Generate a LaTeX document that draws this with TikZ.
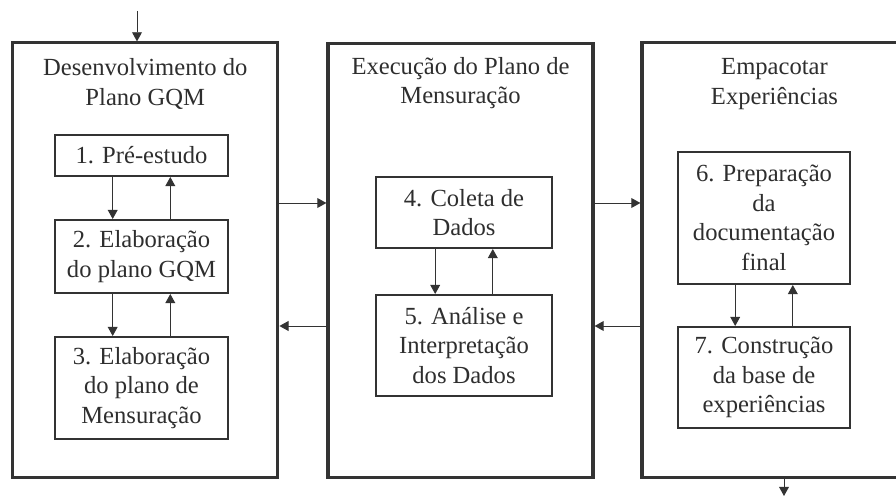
\documentclass[tikz,border=0pt]{standalone}
\usepackage{fontspec}
\setmainfont{Liberation Serif}
\usetikzlibrary{arrows.meta}
\definecolor{linegray}{HTML}{333333}
\definecolor{textgray}{HTML}{2E2E2E}
\tikzset{
	phase/.style={draw=linegray, line width=2.2pt, minimum width=6.625cm, minimum height=10.85cm, inner sep=0pt},
	stepbox/.style={draw=linegray, line width=1.4pt, align=center, inner sep=0pt, text=textgray},
	title/.style={align=center, text=textgray},
	arr/.style={draw=linegray, line width=0.7pt, -{Triangle[length=6.5pt,width=7pt]}}
}
\begin{document}
\begin{tikzpicture}[x=0.025cm, y=-0.025cm, font=\fontsize{17.5}{21}\selectfont]
	\useasboundingbox (0,0) rectangle (896,497);
	% fases
	\node[phase] (o1) at (145.3,260) {};
	\node[phase] (o2) at (460.5,260.5) {};
	\node[phase] (o3) at (774.5,260) {};
	\node[title] (t1) at (145.3,84) {Desenvolvimento do\\Plano GQM};
	\node[title] (t2) at (460.5,83) {Execução do Plano de\\Mensuração};
	\node[title] (t3) at (774.5,84) {Empacotar\\Experiências};
	% passos
	\node[stepbox, minimum width=4.325cm, minimum height=1.025cm] (b1) at (141.5,155.5) {1. Pré-estudo};
	\node[stepbox, minimum width=4.325cm, minimum height=1.825cm] (b2) at (141.5,256.5) {2. Elaboração\\do plano GQM};
	\node[stepbox, minimum width=4.325cm, minimum height=2.55cm] (b3) at (141.5,388) {3. Elaboração\\do plano de\\Mensuração};
	\node[stepbox, minimum width=4.4cm, minimum height=1.775cm] (b4) at (464,212.5) {4. Coleta de\\Dados};
	\node[stepbox, minimum width=4.4cm, minimum height=2.525cm] (b5) at (464,345.5) {5. Análise e\\Interpretação\\dos Dados};
	\node[stepbox, minimum width=4.3cm, minimum height=3.3cm] (b6) at (764,218) {6. Preparação\\da\\documentação\\final};
	\node[stepbox, minimum width=4.3cm, minimum height=2.525cm] (b7) at (764,377.5) {7. Construção\\da base de\\experiências};
	% entrada e saida
	\coordinate (in) at (137,11);
	\coordinate (out) at (784,496);
	\draw[arr] (in) -- (in |- o1.north);
	\draw[arr] (o3.south -| out) -- (out);
	% entre fases
	\draw[arr] (o1.east |- 0,203) -- (o2.west |- 0,203);
	\draw[arr] (o2.west |- 0,326) -- (o1.east |- 0,326);
	\draw[arr] (o2.east |- 0,203) -- (o3.west |- 0,203);
	\draw[arr] (o3.west |- 0,326) -- (o2.east |- 0,326);
	% entre passos
	\draw[arr] ([xshift=-0.72cm]b1.south) -- ([xshift=-0.72cm]b2.north);
	\draw[arr] ([xshift=0.72cm]b2.north) -- ([xshift=0.72cm]b1.south);
	\draw[arr] ([xshift=-0.72cm]b2.south) -- ([xshift=-0.72cm]b3.north);
	\draw[arr] ([xshift=0.72cm]b3.north) -- ([xshift=0.72cm]b2.south);
	\draw[arr] ([xshift=-0.72cm]b4.south) -- ([xshift=-0.72cm]b5.north);
	\draw[arr] ([xshift=0.72cm]b5.north) -- ([xshift=0.72cm]b4.south);
	\draw[arr] ([xshift=-0.72cm]b6.south) -- ([xshift=-0.72cm]b7.north);
	\draw[arr] ([xshift=0.72cm]b7.north) -- ([xshift=0.72cm]b6.south);
\end{tikzpicture}
\end{document}
